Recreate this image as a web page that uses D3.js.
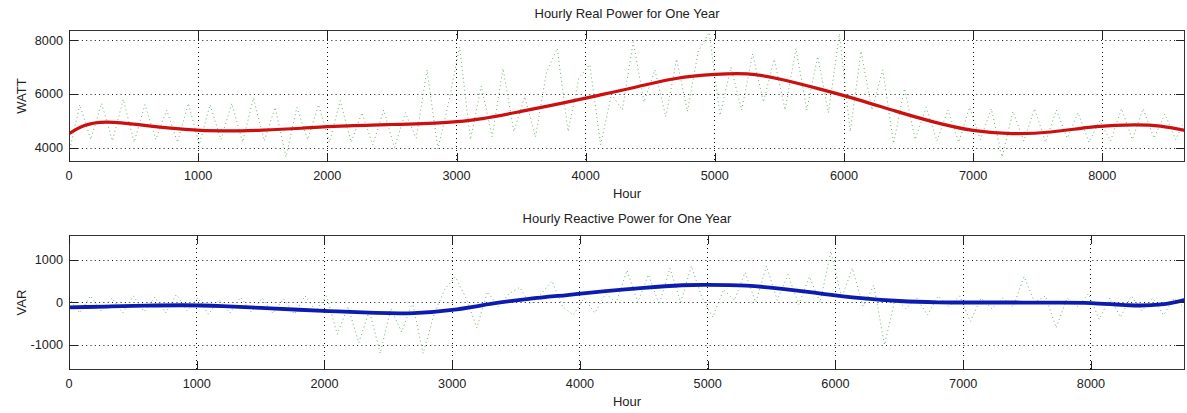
<head>
<script src="https://d3js.org/d3.v7.min.js"></script>
<style>
  body { margin: 0; background: #fff; }
  svg { display: block; font-family: "Liberation Sans", Arial, sans-serif; }
  .tick-label { font-size: 12.7px; fill: #222; }
  .title { font-size: 13px; fill: #222; }
</style>
</head>
<body>
<svg id="chart" width="1187" height="413"></svg>
<script>
// ---- data ----
// top panel: hourly real power
var realTrendHours = [0, 120, 300, 600, 900, 1200, 1500, 1800, 2100, 2500, 2900, 3200, 3500, 3800, 4100, 4400, 4700, 5000, 5250, 5500, 5800, 6100, 6400, 6700, 7000, 7300, 7600, 7950, 8250, 8450, 8640];
var realTrendWatts = [4520, 4820, 4950, 4820, 4680, 4620, 4650, 4720, 4800, 4860, 4930, 5080, 5350, 5640, 5950, 6270, 6580, 6730, 6750, 6560, 6200, 5800, 5360, 4950, 4640, 4520, 4580, 4780, 4850, 4800, 4640];
// raw series, one value every half week (84 h)
var noiseStep = 84;
var realRawWatts = [
  3800, 5600, 4300, 5650, 4250, 5800, 4200, 5600, 4300, 5400,
  4200, 5650, 4100, 5600, 4300, 5650, 4200, 5850, 4250, 5500,
  3650, 5500, 4300, 5600, 4200, 5750, 4200, 5300, 4100, 5400,
  4000, 5300, 4350, 6900, 3950, 5700, 7750, 4300, 6300, 4400,
  6950, 4600, 5900, 4400, 6800, 7700, 4600, 6600, 7100, 4100,
  6000, 5400, 7950, 5700, 6900, 5150, 7300, 5350, 7600, 8300,
  5200, 7000, 5400, 7500, 5700, 7300, 5400, 7700, 5400, 7400,
  5300, 8250, 4600, 7600, 5400, 6900, 4150, 6200, 4300, 5500,
  4250, 5400, 4200, 5500, 4300, 5450, 3650, 5350, 4250, 5450,
  4200, 5400, 4350, 5300, 4200, 5000, 4250, 5450, 4300, 5450,
  4350, 5250, 4300, 5150
];
var realTicksX = [0, 1000, 2000, 3000, 4000, 5000, 6000, 7000, 8000];
var realTicksY = [4000, 6000, 8000];

// bottom panel: hourly reactive power
var reactTrendHours = [0, 300, 600, 900, 1200, 1500, 1800, 2100, 2400, 2700, 3000, 3300, 3600, 3900, 4200, 4500, 4800, 5000, 5300, 5600, 5900, 6200, 6500, 6800, 7100, 7400, 7700, 8000, 8300, 8550, 8736];
var reactTrendVars = [-120, -100, -80, -70, -90, -130, -175, -215, -250, -255, -180, -40, 80, 170, 260, 340, 400, 410, 390, 310, 200, 100, 30, 0, -5, -5, -10, -20, -70, -50, 60];
var reactRawVars = [
  100, -250, 150, -200, 100, -250, 150, -220, 120, -250,
  180, -200, 100, -280, 60, -250, 120, -230, 100, -260,
  80, -280, 150, -200, 150, -750, -100, -950, -200, -1200,
  -150, -700, 0, -1200, -300, 300, 600, 100, -600, 250,
  -100, 200, 350, -50, 200, 500, -100, -300, 100, -250,
  200, 0, 750, 0, 650, -50, 800, 0, 850, 100,
  -350, 300, 50, 700, 0, 850, 50, 650, -50, 600,
  0, 1200, 100, 800, -100, 400, -1000, 100, -150, 100,
  -300, 150, -100, 150, -450, 100, -150, 100, -100, 600,
  0, 150, -600, 100, -100, 200, -400, 100, -350, 150,
  -200, 100, -300, 100, -150
];
var reactTicksX = [0, 1000, 2000, 3000, 4000, 5000, 6000, 7000, 8000];
var reactTicksY = [-1000, 0, 1000];

var svg = d3.select("#chart");

function drawPanel(cfg) {
  var g = svg.append("g");
  var x = d3.scaleLinear().domain(cfg.xDomain).range([cfg.left, cfg.right]);
  var y = d3.scaleLinear().domain(cfg.yDomain).range([cfg.bottom, cfg.top]);

  // clip
  g.append("clipPath").attr("id", cfg.id + "-clip")
    .append("rect")
    .attr("x", cfg.left).attr("y", cfg.top)
    .attr("width", cfg.right - cfg.left).attr("height", cfg.bottom - cfg.top);

  // grid (dotted)
  g.selectAll(".gx").data(cfg.ticksX.filter(d => d > cfg.xDomain[0])).enter()
    .append("line")
    .attr("x1", d => x(d)).attr("x2", d => x(d))
    .attr("y1", cfg.top).attr("y2", cfg.bottom)
    .attr("stroke", "#111").attr("stroke-width", 1)
    .attr("stroke-dasharray", "1,3.3")
    .attr("shape-rendering", "crispEdges");
  g.selectAll(".gy").data(cfg.ticksY).enter()
    .append("line")
    .attr("x1", cfg.left).attr("x2", cfg.right)
    .attr("y1", d => Math.round(y(d)) + 0.5).attr("y2", d => Math.round(y(d)) + 0.5)
    .attr("stroke", "#111").attr("stroke-width", 1)
    .attr("stroke-dasharray", "1,3.3");

  // raw dotted green series
  var raw = cfg.raw.map((v, i) => [i * noiseStep, v]);
  g.append("path")
    .datum(raw)
    .attr("clip-path", "url(#" + cfg.id + "-clip)")
    .attr("fill", "none")
    .attr("stroke", "#4fa34f")
    .attr("stroke-width", 1)
    .attr("stroke-opacity", 0.85)
    .attr("stroke-dasharray", "1,3")
    .attr("d", d3.line().x(d => x(d[0])).y(d => y(d[1])));

  // smooth trend
  var trend = cfg.trendHours.map((h, i) => [h, cfg.trendValues[i]]);
  g.append("path")
    .datum(trend)
    .attr("clip-path", "url(#" + cfg.id + "-clip)")
    .attr("fill", "none")
    .attr("stroke", cfg.color)
    .attr("stroke-width", cfg.width)
    .attr("d", d3.line().curve(d3.curveNatural).x(d => x(d[0])).y(d => y(d[1])));

  // box
  g.append("rect")
    .attr("x", cfg.left + 0.5).attr("y", cfg.top + 0.5)
    .attr("width", cfg.right - cfg.left - 1).attr("height", cfg.bottom - cfg.top - 1)
    .attr("fill", "none").attr("stroke", "#333").attr("stroke-width", 1);

  // inward ticks
  var tl = 9;
  cfg.ticksX.forEach(function(t) {
    var xx = Math.round(x(t)) + 0.5;
    g.append("line").attr("x1", xx).attr("x2", xx).attr("y1", cfg.bottom).attr("y2", cfg.bottom - tl).attr("stroke", "#222");
    g.append("line").attr("x1", xx).attr("x2", xx).attr("y1", cfg.top).attr("y2", cfg.top + tl).attr("stroke", "#222");
  });
  cfg.ticksY.forEach(function(t) {
    var yy = Math.round(y(t)) + 0.5;
    g.append("line").attr("x1", cfg.left).attr("x2", cfg.left + tl).attr("y1", yy).attr("y2", yy).attr("stroke", "#222");
    g.append("line").attr("x1", cfg.right).attr("x2", cfg.right - tl).attr("y1", yy).attr("y2", yy).attr("stroke", "#222");
  });

  // tick labels
  g.selectAll(".tx").data(cfg.ticksX).enter()
    .append("text").attr("class", "tick-label")
    .attr("x", d => x(d)).attr("y", cfg.bottom + 18)
    .attr("text-anchor", "middle")
    .text(d => d);
  g.selectAll(".ty").data(cfg.ticksY).enter()
    .append("text").attr("class", "tick-label")
    .attr("x", cfg.left - 6).attr("y", d => y(d) + 4.5)
    .attr("text-anchor", "end")
    .text(d => d);

  // titles
  var cx = (cfg.left + cfg.right) / 2;
  g.append("text").attr("class", "title")
    .attr("x", cx).attr("y", cfg.top - 12)
    .attr("text-anchor", "middle").text(cfg.title);
  g.append("text").attr("class", "title")
    .attr("x", cx).attr("y", cfg.bottom + 36)
    .attr("text-anchor", "middle").text("Hour");
  g.append("text").attr("class", "title")
    .attr("transform", "translate(" + 26 + "," + ((cfg.top + cfg.bottom) / 2) + ") rotate(-90)")
    .attr("text-anchor", "middle").text(cfg.yLabel);
}

drawPanel({
  id: "real", left: 69, right: 1185, top: 30, bottom: 162,
  xDomain: [0, 8640], yDomain: [3460, 8390],
  ticksX: realTicksX, ticksY: realTicksY,
  raw: realRawWatts, trendHours: realTrendHours, trendValues: realTrendWatts,
  color: "#cc1010", width: 3.2,
  title: "Hourly Real Power for One Year", yLabel: "WATT"
});

drawPanel({
  id: "react", left: 69, right: 1185, top: 235, bottom: 370,
  xDomain: [0, 8736], yDomain: [-1590, 1580],
  ticksX: reactTicksX, ticksY: reactTicksY,
  raw: reactRawVars, trendHours: reactTrendHours, trendValues: reactTrendVars,
  color: "#0c1cb0", width: 3.8,
  title: "Hourly Reactive Power for One Year", yLabel: "VAR"
});
</script>
</body>
